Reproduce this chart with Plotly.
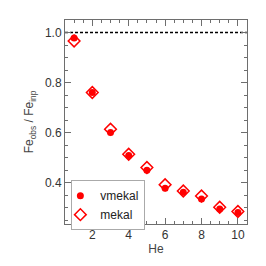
import plotly.graph_objects as go

he = [1, 2, 3, 4, 5, 6, 7, 8, 9, 10]
vmekal = [0.978, 0.760, 0.600, 0.508, 0.449, 0.377, 0.361, 0.334, 0.294, 0.280]
mekal = [0.966, 0.760, 0.613, 0.513, 0.460, 0.391, 0.366, 0.346, 0.301, 0.284]
ref_line = [1.0, 1.0]
ref_x = [0.5, 10.5]

axcol = "#6e6e6e"
fig = go.Figure()
fig.add_trace(go.Scatter(x=ref_x, y=ref_line, mode="lines",
                         line=dict(color="black", dash="3px,2px", width=1.5),
                         showlegend=False, hoverinfo="skip"))
fig.add_trace(go.Scatter(x=he, y=mekal, mode="markers", name="mekal",
                         marker=dict(symbol="diamond-open", size=9, color="red",
                                     line=dict(width=1.5, color="red"))))
fig.add_trace(go.Scatter(x=he, y=vmekal, mode="markers", name="vmekal",
                         marker=dict(symbol="circle", size=7, color="red")))

fig.update_layout(
    width=258, height=258,
    margin=dict(l=57, r=19, t=12, b=42),
    paper_bgcolor="white", plot_bgcolor="white",
    font=dict(family="Liberation Sans, Arial, sans-serif", size=12, color="#333"),
    legend=dict(x=0.035, y=0.215, xanchor="left", yanchor="top",
                bordercolor="#aaaaaa", borderwidth=1, bgcolor="white",
                traceorder="reversed", indentation=-12,
                font=dict(size=12, color="#222"),
                itemwidth=30, tracegroupgap=0),
)
fig.update_xaxes(range=[0.5, 10.5], tickvals=[2, 4, 6, 8, 10], ticks="inside",
                 ticklen=6, tickcolor=axcol, showline=True, linecolor=axcol,
                 mirror="ticks", showgrid=False, zeroline=False,
                 minor=dict(dtick=0.5, ticks="inside", ticklen=3, tickcolor=axcol),
                 title=dict(text="He", standoff=2, font=dict(size=12, color="#444")))
fig.update_yaxes(range=[0.234, 1.05], tickvals=[0.4, 0.6, 0.8, 1.0],
                 ticktext=["0.4", "0.6", "0.8", "1.0"], ticks="inside",
                 ticklen=6, tickcolor=axcol, showline=True, linecolor=axcol,
                 mirror="ticks", showgrid=False, zeroline=False,
                 minor=dict(dtick=0.05, tick0=0, ticks="inside", ticklen=3, tickcolor=axcol),
                 title=dict(text="Fe<sub>obs</sub> / Fe<sub>inp</sub>", standoff=8,
                            font=dict(size=12, color="#444")))

fig.write_html("out.html")
